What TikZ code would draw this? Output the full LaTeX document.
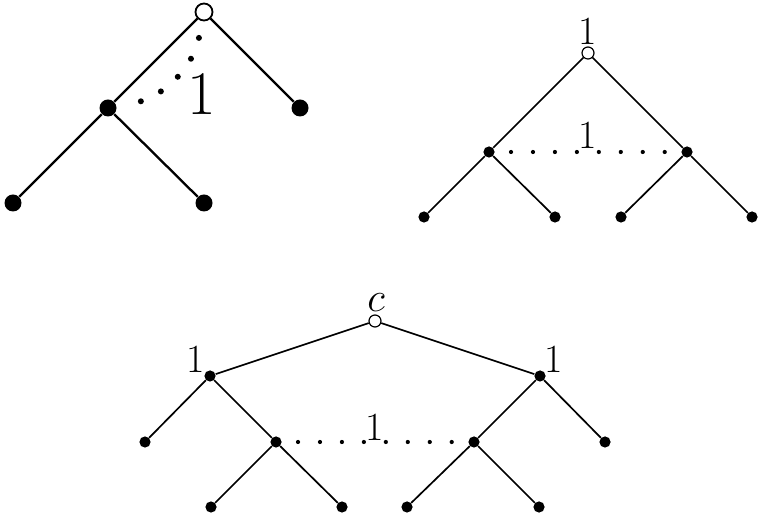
\documentclass[tikz,border=0pt]{standalone}
\usepackage{tikz}
\usetikzlibrary{positioning}

\tikzset{
  bigleaf/.style={circle, fill=black, inner sep=0pt, minimum size=8.5pt},
  bigroot/.style={circle, draw=black, fill=white, line width=0.9pt, inner sep=0pt, minimum size=8.5pt},
  leaf/.style={circle, fill=black, inner sep=0pt, minimum size=5.6pt},
  root/.style={circle, draw=black, fill=white, line width=0.6pt, inner sep=0pt, minimum size=6pt},
  bigedge/.style={line width=1.15pt},
  edge/.style={line width=0.85pt},
  bigdots/.style={line width=3pt, line cap=round, dash pattern=on 0pt off 11.2pt},
  dots/.style={line width=2.1pt, line cap=round, dash pattern=on 0pt off 10.98pt},
  biglabel/.style={font=\fontsize{31}{33}\selectfont, inner sep=0pt},
  label1/.style={font=\fontsize{20}{22}\selectfont, inner sep=0pt}
}

\begin{document}
\begin{tikzpicture}[x=0.5pt, y=-0.5pt]
\useasboundingbox (0,0) rectangle (759,522);

% First tree
\node[bigroot] (r1) at (204,12) {};
\node[bigleaf] (a1) at (108,108) {};
\node[bigleaf] (b1) at (300,108) {};
\node[bigleaf] (aa1) at (13,203) {};
\node[bigleaf] (ab1) at (204,203) {};
\node[biglabel] (l1) at (202,94) {1};

\draw[bigedge] (r1) -- (a1);
\draw[bigedge] (r1) -- (b1);
\draw[bigedge] (a1) -- (aa1);
\draw[bigedge] (a1) -- (ab1);
\draw[bigdots, shorten <=8.5pt, shorten >=9.3pt] (r1) to[bend left=34] (a1);

% Second tree
\node[root] (r2) at (588,53) {};
\node[leaf] (a2) at (489,152) {};
\node[leaf] (b2) at (687,152) {};
\node[leaf] (aa2) at (424,217) {};
\node[leaf] (ab2) at (555,217) {};
\node[leaf] (ba2) at (621,217) {};
\node[leaf] (bb2) at (752,217) {};
\node[label1] (l2) at (588,31) {1};
\node[label1] (m2) at (588,135) {1};

\draw[edge] (r2) -- (a2);
\draw[edge] (r2) -- (b2);
\draw[edge] (a2) -- (aa2);
\draw[edge] (a2) -- (ab2);
\draw[edge] (b2) -- (ba2);
\draw[edge] (b2) -- (bb2);
\draw[dots, shorten <=11pt, shorten >=11pt] (a2.center) -- (b2.center);

% Third tree
\node[root] (r3) at (375,321) {};
\node[leaf] (a3) at (210,376) {};
\node[leaf] (b3) at (540,376) {};
\node[leaf] (aa3) at (145,442) {};
\node[leaf] (ab3) at (276,442) {};
\node[leaf] (ba3) at (474,442) {};
\node[leaf] (bb3) at (605,442) {};
\node[leaf] (aba3) at (211,507) {};
\node[leaf] (abb3) at (342,507) {};
\node[leaf] (baa3) at (407,507) {};
\node[leaf] (bab3) at (539,507) {};
\node[label1] (c3) at (376,303) {$c$};
\node[label1] (la3) at (196,359) {1};
\node[label1] (lb3) at (554,359) {1};
\node[label1] (m3) at (375,427) {1};

\draw[edge] (r3) -- (a3);
\draw[edge] (r3) -- (b3);
\draw[edge] (a3) -- (aa3);
\draw[edge] (a3) -- (ab3);
\draw[edge] (b3) -- (ba3);
\draw[edge] (b3) -- (bb3);
\draw[edge] (ab3) -- (aba3);
\draw[edge] (ab3) -- (abb3);
\draw[edge] (ba3) -- (baa3);
\draw[edge] (ba3) -- (bab3);
\draw[dots, shorten <=11pt, shorten >=11pt] (ab3.center) -- (ba3.center);
\end{tikzpicture}
\end{document}
